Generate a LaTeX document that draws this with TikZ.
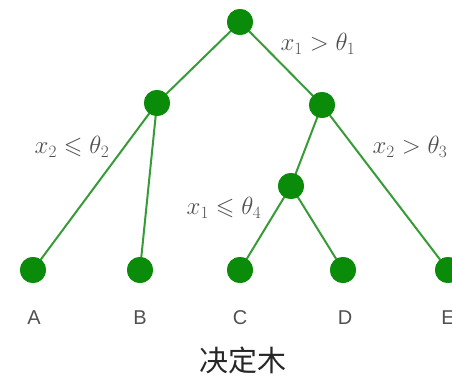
\documentclass[tikz,border=0pt]{standalone}
\usepackage{amssymb}
\usepackage{fontspec}
\newfontfamily\cjk{Noto Sans CJK SC}
\newfontfamily\labfont{Liberation Sans}
\definecolor{treegreen}{RGB}{10,140,10}
\definecolor{edgegreen}{RGB}{55,155,55}
\definecolor{txtgray}{RGB}{80,80,80}
\begin{document}
\begin{tikzpicture}[x=1pt,y=-1pt,
  tnode/.style={circle,fill=treegreen,inner sep=0pt,minimum size=26pt},
  edge/.style={draw=edgegreen,line width=2pt},
  cond/.style={text=txtgray,font=\fontsize{24}{28}\selectfont},
  leaflab/.style={text=txtgray,font=\labfont\fontsize{20}{23}\selectfont},
  title/.style={text=black!85,font=\cjk\fontsize{29}{32}\selectfont}]
\useasboundingbox (0,0) rectangle (452,388);
\node[tnode] (r) at (240,22) {};
\node[tnode] (l) at (157,103) {};
\node[tnode] (rr) at (322,105) {};
\node[tnode] (m) at (291,186) {};
\node[tnode] (a) at (33,270) {};
\node[tnode] (b) at (140,270) {};
\node[tnode] (c) at (240,270) {};
\node[tnode] (d) at (343,270) {};
\node[tnode] (e) at (448,270) {};
\path[edge] (r.center) -- (l.center);
\path[edge] (r.center) -- (rr.center);
\path[edge] (l.center) -- (a.center);
\path[edge] (l.center) -- (b.center);
\path[edge] (rr.center) -- (m.center);
\path[edge] (rr.center) -- (e.center);
\path[edge] (m.center) -- (c.center);
\path[edge] (m.center) -- (d.center);
\foreach \n in {r,l,rr,m,a,b,c,d,e} \fill[treegreen] (\n) circle (13pt);
\node[cond] (c1) at (318,44) {$x_1>\theta_1$};
\node[cond] (c2) at (72,147) {$x_2\leqslant\theta_2$};
\node[cond] (c3) at (410,147) {$x_2>\theta_3$};
\node[cond] (c4) at (224,208) {$x_1\leqslant\theta_4$};
\node[leaflab] (la) at (34,318) {A};
\node[leaflab] (lb) at (140,318) {B};
\node[leaflab] (lc) at (240,318) {C};
\node[leaflab] (ld) at (345,318) {D};
\node[leaflab] (le) at (448,318) {E};
\node[title] (t) at (243,360) {决定木};
\end{tikzpicture}
\end{document}
